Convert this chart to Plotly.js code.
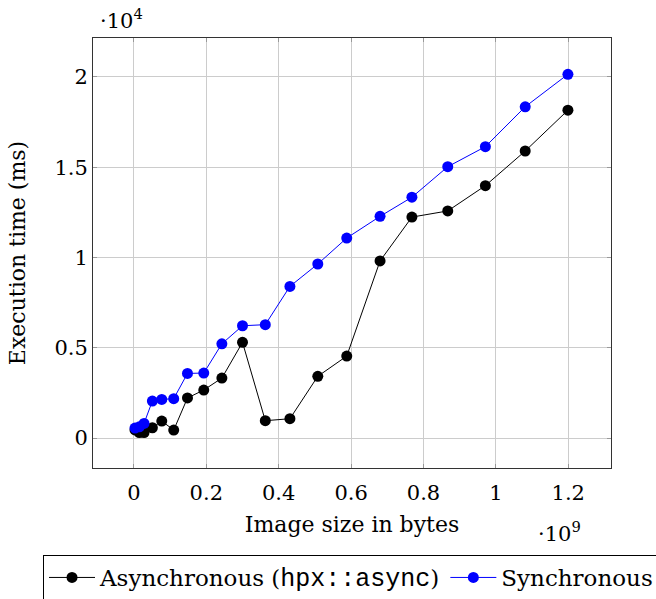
<!DOCTYPE html>
<html>
<head>
<meta charset="utf-8">
<script src="https://cdn.plot.ly/plotly-3.0.1.min.js"></script>
<style>html,body{margin:0;padding:0;background:#fff;}#chart{width:656px;height:599px;}</style>
</head>
<body>
<div id="chart"></div>
<script>
// Image size in bytes (units of 1e9)
const imageSize = [0.003, 0.015, 0.028, 0.051, 0.077, 0.110, 0.148, 0.193, 0.243, 0.300, 0.363, 0.431, 0.508, 0.588, 0.680, 0.768, 0.867, 0.971, 1.081, 1.199];
// Execution time (units of 1e4 ms)
const asyncTime = [0.045, 0.030, 0.030, 0.057, 0.094, 0.044, 0.222, 0.266, 0.332, 0.530, 0.096, 0.107, 0.342, 0.454, 0.981, 1.224, 1.258, 1.398, 1.590, 1.816];
const syncTime  = [0.055, 0.062, 0.081, 0.205, 0.214, 0.218, 0.358, 0.360, 0.522, 0.622, 0.628, 0.840, 0.964, 1.108, 1.228, 1.334, 1.503, 1.614, 1.835, 2.015];
const xTicks = [0, 0.2, 0.4, 0.6, 0.8, 1, 1.2];
const xTickLabels = ["0", "0.2", "0.4", "0.6", "0.8", "1", "1.2"];
const yTicks = [0, 0.5, 1, 1.5, 2];
const yTickLabels = ["0", "0.5", "1", "1.5", "2"];
const asyncName = 'Asynchronous (<span style="font-family:Liberation Mono;font-size:25px">hpx::async</span>)';
const syncName = 'Synchronous';

const serif = 'DejaVu Serif';
const traces = [
  {x: imageSize, y: asyncTime, name: asyncName, mode: 'lines+markers',
   line: {color: '#000', width: 1}, marker: {color: '#000', size: 11}},
  {x: imageSize, y: syncTime, name: syncName, mode: 'lines+markers',
   line: {color: '#0000ff', width: 1}, marker: {color: '#0000ff', size: 11}}
];
const axisCommon = {
  showline: true, mirror: 'ticks', linecolor: '#333', linewidth: 1,
  ticks: 'inside', ticklen: 4, tickcolor: '#999', tickwidth: 1,
  showgrid: true, gridcolor: '#cccccc', gridwidth: 1, zeroline: false,
  automargin: false,
  tickfont: {family: serif, size: 21, color: '#000'}
};
const layout = {
  width: 656, height: 599,
  margin: {l: 93, r: 45, t: 38, b: 131, autoexpand: false},
  paper_bgcolor: '#fff', plot_bgcolor: '#fff',
  font: {family: serif, size: 21, color: '#000'},
  xaxis: Object.assign({}, axisCommon, {
    range: [-0.113, 1.318], tickvals: xTicks, ticktext: xTickLabels, ticklabelstandoff: 6,
    title: {text: 'Image size in bytes', font: {family: serif, size: 22}, standoff: 12}
  }),
  yaxis: Object.assign({}, axisCommon, {
    range: [-0.166, 2.216], tickvals: yTicks, ticktext: yTickLabels,
    title: {text: 'Execution time (ms)', font: {family: serif, size: 22}, standoff: 22}
  }),
  showlegend: true,
  legend: {
    orientation: 'h', x: -0.0965, xanchor: 'left', y: -0.2023, yanchor: 'top',
    bordercolor: '#000', borderwidth: 1, bgcolor: '#fff',
    font: {family: serif, size: 23}, itemwidth: 46, tracegroupgap: 0
  },
  annotations: [
    {xref: 'paper', yref: 'paper', x: 0, y: 1, xanchor: 'left', yanchor: 'bottom', yshift: 3, xshift: 5,
     text: '·10<sup>4</sup>', showarrow: false, font: {family: serif, size: 21}},
    {xref: 'paper', yref: 'paper', x: 0.9, y: 0, xanchor: 'center', yanchor: 'top', yshift: -48,
     text: '·10<sup>9</sup>', showarrow: false, font: {family: serif, size: 21}}
  ]
};
Plotly.newPlot('chart', traces, layout, {displayModeBar: false, staticPlot: true});
</script>
</body>
</html>
